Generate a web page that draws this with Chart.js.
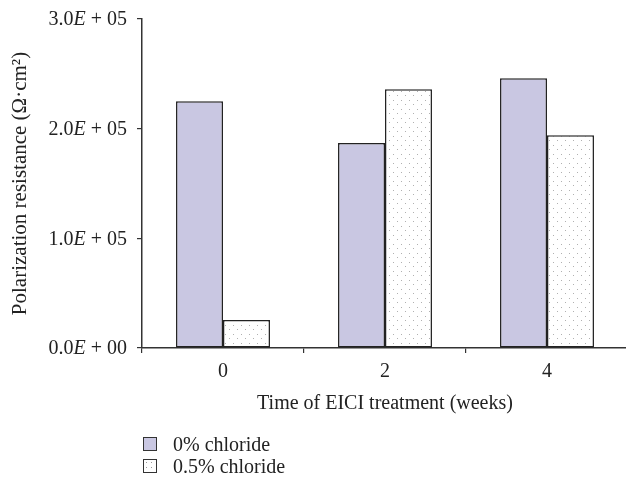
<!DOCTYPE html>
<html>
<head>
<meta charset="utf-8">
<script src="https://cdn.jsdelivr.net/npm/chart.js@4/dist/chart.umd.min.js"></script>
<style>
  html, body { margin: 0; padding: 0; background: #fff; overflow: hidden; width: 626px; height: 486px; }
  #wrap { position: absolute; left: 0; top: 0; width: 632px; height: 486px; }
  #legend { position: absolute; left: 143px; top: 433px; font-family: "Liberation Serif", "DejaVu Serif", serif; font-size: 20px; color: #222; }
  .item { display: flex; align-items: center; height: 22px; }
  .sw { width: 12px; height: 12px; border: 1.5px solid #333; margin-right: 16px; }
</style>
</head>
<body>
<div id="wrap"><canvas id="c" width="632" height="486"></canvas></div>
<div id="legend"></div>
<script>
const categories = ["0", "2", "4"];
const seriesNames = ["0% chloride", "0.5% chloride"];
const chloride0 = [225000, 187000, 246000];
const chloride05 = [25500, 236000, 194000];
const yTicks = [0, 100000, 200000, 300000];
const yTickLabels = [["0.0", "E", " + 00"], ["1.0", "E", " + 05"], ["2.0", "E", " + 05"], ["3.0", "E", " + 05"]];

const FONT = '"Liberation Serif", "DejaVu Serif", serif';
const purple = '#c9c7e2';

function makeDots() {
  const c = document.createElement('canvas');
  c.width = 8; c.height = 9;
  const g = c.getContext('2d');
  g.fillStyle = '#ffffff'; g.fillRect(0, 0, 8, 9);
  g.fillStyle = '#b0b0b0';
  g.fillRect(1, 1, 1, 1);
  g.fillRect(5, 5, 1, 1);
  return g.createPattern(c, 'repeat');
}
const dots = makeDots();

const yLabelPlugin = {
  id: 'yLabels',
  afterDraw(chart) {
    const ctx = chart.ctx;
    const y = chart.scales.y;
    const xRight = y.right - 15;
    ctx.save();
    ctx.fillStyle = '#222';
    ctx.textBaseline = 'middle';
    ctx.textAlign = 'left';
    yTicks.forEach((v, i) => {
      const parts = yTickLabels[i];
      const py = y.getPixelForValue(v) + 1;
      const fonts = ['20px ' + FONT, 'italic 20px ' + FONT, '20px ' + FONT];
      let w = 0;
      parts.forEach((p, k) => { ctx.font = fonts[k]; w += ctx.measureText(p).width; });
      let x = xRight - w;
      parts.forEach((p, k) => { ctx.font = fonts[k]; ctx.fillText(p, x, py); x += ctx.measureText(p).width; });
    });
    ctx.restore();
  }
};

new Chart(document.getElementById('c'), {
  type: 'bar',
  data: {
    labels: categories,
    datasets: [
      { label: seriesNames[0], data: chloride0, backgroundColor: purple, borderColor: '#222', borderWidth: 1.5, borderSkipped: false },
      { label: seriesNames[1], data: chloride05, backgroundColor: dots, borderColor: '#222', borderWidth: 1.5, borderSkipped: false }
    ]
  },
  options: {
    responsive: false,
    animation: false,
    devicePixelRatio: 1,
    categoryPercentage: 0.58,
    barPercentage: 1.0,
    layout: { padding: { left: 0, top: 19, right: 4, bottom: 70 } },
    plugins: { legend: { display: false }, tooltip: { enabled: false } },
    scales: {
      x: {
        grid: { offset: true, drawOnChartArea: false, drawTicks: true, tickLength: 5, color: '#333', lineWidth: 1.2 },
        border: { display: true, color: '#333', width: 1.5 },
        ticks: { color: '#222', font: { family: FONT, size: 20 }, padding: 7 },
        title: { display: true, text: 'Time of EICI treatment (weeks)', color: '#222', font: { family: FONT, size: 20 }, padding: { top: 7, bottom: 0 } },
        afterFit(s) { s.height = 68; }
      },
      y: {
        min: 0, max: 300000,
        afterBuildTicks(s) { s.ticks = yTicks.map(v => ({ value: v })); },
        grid: { drawOnChartArea: false, drawTicks: true, tickLength: 5, color: '#333', lineWidth: 1.2 },
        border: { display: true, color: '#333', width: 1.5 },
        ticks: { display: false },
        title: { display: true, text: 'Polarization resistance (Ω·cm²)', color: '#222', font: { family: FONT, size: 21 }, padding: { top: 8, bottom: 0 } },
        afterFit(s) { s.width = 142; }
      }
    }
  },
  plugins: [yLabelPlugin]
});

const legend = document.getElementById('legend');
seriesNames.forEach((name, i) => {
  const it = document.createElement('div'); it.className = 'item';
  const sw = document.createElement('div'); sw.className = 'sw';
  if (i === 0) sw.style.background = purple;
  else { sw.style.background = '#fff radial-gradient(circle, #999 0.6px, transparent 0.8px)'; sw.style.backgroundSize = '5px 5px'; }
  const tx = document.createElement('span'); tx.textContent = name;
  it.appendChild(sw); it.appendChild(tx); legend.appendChild(it);
});
</script>
</body>
</html>
